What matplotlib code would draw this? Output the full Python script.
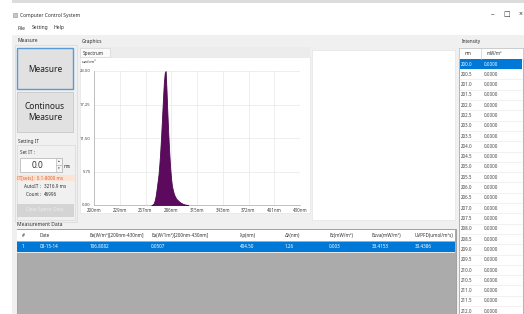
import matplotlib
matplotlib.use("Agg")
import matplotlib.pyplot as plt
from matplotlib.patches import Rectangle

# ---------------- data ----------------
wavelength_nm = [264, 265, 266, 267, 268, 269, 270, 271, 272, 273, 274, 275, 276, 277,
                 278, 279, 280, 281, 282, 283, 284, 285, 286, 287, 288, 289, 290, 291,
                 292, 293, 294, 295, 296, 297, 298, 299, 300, 301, 302, 303, 304, 305]
intensity = [0.0, 0.05, 0.15, 0.4, 0.9, 1.7, 2.8, 4.0, 5.2, 7.0, 9.3, 12.0, 15.0, 18.2,
             21.0, 22.7, 23.0, 19.5, 15.5, 12.0, 9.0, 6.5, 4.6, 3.3, 2.6, 2.0, 1.6, 1.3,
             1.05, 0.9, 0.75, 0.6, 0.48, 0.38, 0.3, 0.22, 0.16, 0.11, 0.07, 0.04, 0.02, 0.0]
x_ticks_nm = [200, 228.75, 257.5, 286.25, 315, 343.75, 372.5, 401.25, 430]
x_tick_labels = ["200nm", "229nm", "257nm", "286nm", "315nm", "343nm", "372nm", "401nm", "430nm"]
y_ticks = [0.0, 5.75, 11.5, 17.25, 23.0]
y_tick_labels = ["0.00", "5.75", "11.50", "17.25", "23.00"]

table_nm = ["200.0", "200.5", "201.0", "201.5", "202.0", "202.5", "203.0", "203.5",
            "204.0", "204.5", "205.0", "205.5", "206.0", "206.5", "207.0", "207.5",
            "208.0", "208.5", "209.0", "209.5", "210.0", "210.5", "211.0", "211.5", "212.0"]
table_val = ["0.0000", "0.0000", "0.0000", "0.0000", "0.0000", "0.0000", "0.0000", "0.0000",
             "0.0000", "0.0000", "0.0000", "0.0000", "0.0000", "0.0000", "0.0000", "0.0000",
             "0.0000", "0.0000", "0.0000", "0.0000", "0.0000", "0.0000", "0.0000", "0.0000", "0.0000"]

meas_headers = ["#", "Date", "Ee(W/m²)[200nm-430nm]", "Ea(W/1m²)[200nm-430nm]", "λp(nm)",
                "Δλ(nm)", "Ez(mW/m²)", "Euva(mW/m²)", "UVPFD(umol/m²s)"]
meas_row = ["1", "08-15-14", "106.8082", "0.0507", "404.50", "1.26", "0.003", "33.4153", "33.4386"]
meas_col_x = [22, 40, 90, 151, 240, 285, 329, 372, 415]

W, H = 524, 314
FONT = "Noto Sans"
plt.rcParams['font.family'] = [FONT, 'DejaVu Sans']

fig = plt.figure(figsize=(W / 100, H / 100), dpi=100)
fig.patch.set_facecolor("white")
bg = fig.add_axes([0, 0, 1, 1])
bg.set_xlim(0, W)
bg.set_ylim(H, 0)
bg.axis("off")


def rect(x0, y0, x1, y1, fc, ec="none", lw=0.6, z=1):
    r = Rectangle((x0, y0), x1 - x0, y1 - y0, facecolor=fc, edgecolor=ec, linewidth=lw, zorder=z)
    bg.add_patch(r)
    return r


def txt(x, y, s, size=3.8, color="#303030", ha="left", z=5, **kw):
    return bg.text(x, y, s, fontsize=size, color=color, ha=ha, va="center", zorder=z, **kw)


# window body
rect(12, 0, W, 3, "#dcdcdc")
rect(12, 3, W, 35, "#ffffff")
rect(12, 35, W, H, "#f0f0f0")

# title bar
rect(13, 13, 17, 17, "#c8c8c8", ec="#909090", lw=0.4)
txt(20, 15, "Computer Control System", size=3.6)
txt(492, 14.5, "–", size=5, ha="center")
txt(507, 14.5, "□", size=5, ha="center")
txt(521, 14.5, "×", size=5, ha="center")

# menu
txt(17, 28, "File", size=3.6)
txt(32, 28, "Setting", size=3.6)
txt(54, 28, "Help", size=3.6)

# left panel
txt(18, 41, "Measure", size=3.6)
rect(15, 45, 77, 222, "none", ec="#d8d8d8", lw=0.5)
rect(17, 48, 73, 89, "#e1e1e1", ec="#5b9bd5", lw=1.0, z=2)
txt(45, 69, "Measure", size=6.0, ha="center", color="#202020")
rect(17, 92, 73, 132, "#e1e1e1", ec="#c8c8c8", lw=0.6, z=2)
txt(45, 112, "Continous\nMeasure", size=6.0, ha="center", color="#202020", linespacing=1.25)
txt(18, 141, "Setting IT", size=3.4)
rect(17, 145, 75, 220, "none", ec="#d8d8d8", lw=0.5)
txt(20, 152, "Set IT :", size=3.4)
rect(20, 158, 62, 172, "#ffffff", ec="#b0b0b0", lw=0.5, z=2)
txt(38, 165, "0.0", size=6.0, ha="center", color="#303030")
rect(56, 158, 62, 165, "#f4f4f4", ec="#b0b0b0", lw=0.4, z=3)
rect(56, 165, 62, 172, "#f4f4f4", ec="#b0b0b0", lw=0.4, z=3)
txt(59, 161.5, "▴", size=2.5, ha="center", z=6)
txt(59, 168.5, "▾", size=2.5, ha="center", z=6)
txt(64, 167, "ms", size=3.6)
rect(16, 175, 75, 181, "#fbe3d6", z=2)
txt(17, 178, "IT[sets] : 0.1-8000 ms", size=3.3, color="#e0622a")
txt(41, 187, "AutoIT :", size=3.3, ha="right")
txt(44, 187, "3216.9 ms", size=3.3)
txt(41, 195, "Count :", size=3.3, ha="right")
txt(44, 195, "46996", size=3.3)
rect(17, 204, 73, 216, "#d4d4d4", ec="#c8c8c8", lw=0.4, z=2)
txt(45, 210, "Clear Spectr Data", size=3.3, ha="center", color="#eeeeee")

# graphics panel
txt(82, 41, "Graphics", size=3.6)
rect(80, 47, 310, 57, "#ececec")
rect(80, 48, 110, 57, "#fafafa", ec="#d0d0d0", lw=0.4, z=2)
txt(83, 53, "Spectrum", size=3.4)
rect(80, 57, 310, 213, "#ffffff", ec="#e0e0e0", lw=0.4)
txt(82, 62, "uw/cm²", size=3.0)
rect(312, 50, 455, 220, "#ffffff", ec="#e0e0e0", lw=0.4)

# intensity table
txt(462, 41, "Intensity", size=3.4)
rect(459, 48, 523, H + 2, "#ffffff", ec="#a8a8a8", lw=0.6)
rect(459, 48, 523, 59, "#ffffff", ec="#c8c8c8", lw=0.5, z=2)
bg.plot([481, 481], [48, 59], color="#d0d0d0", lw=0.5, zorder=3)
txt(465, 53.5, "nm", size=3.2, z=4)
txt(487, 53.5, "mW/m²", size=3.2, z=4)
row_h = 10.3
for i, (nm, v) in enumerate(zip(table_nm, table_val)):
    yc = 64 + i * row_h
    if i == 0:
        rect(460, yc - row_h / 2, 522, yc + row_h / 2, "#0078d7", z=2)
        col = "white"
    else:
        col = "#404040"
    bg.plot([460, 522], [yc + row_h / 2, yc + row_h / 2], color="#e6e6e6", lw=0.4, zorder=2)
    txt(461, yc, nm, size=3.2, color=col, z=4)
    txt(484, yc, v, size=3.2, color=col, z=4)

# measurement data
txt(17, 224, "Measurement Data", size=3.6)
rect(17, 229, 456, H + 2, "#ababab", ec="#9a9a9a", lw=0.6)
rect(17, 230, 455, 241, "#ffffff", z=2)
rect(17, 242, 455, 252, "#0078d7", z=2)
rect(17, 252, 455, 253, "#e8e8e8", z=2)
clip = Rectangle((17, 228), 438, 30, transform=bg.transData, facecolor="none", edgecolor="none")
bg.add_patch(clip)
for x, h, v in zip(meas_col_x, meas_headers, meas_row):
    t1 = txt(x, 235.5, h, size=3.3, color="#303030", z=4)
    t2 = txt(x, 247, v, size=3.3, color="white", z=4)
    t1.set_clip_path(clip)
    t2.set_clip_path(clip)

# spectrum axes
x0, x1, ytop, ybot = 94, 300, 71, 205
ax = fig.add_axes([x0 / W, 1 - ybot / H, (x1 - x0) / W, (ybot - ytop) / H])
ax.set_facecolor("white")
ax.fill_between(wavelength_nm, intensity, 0, color="#5c0a5e", linewidth=0.6, edgecolor="#4a0a4c", zorder=3)
ax.set_xlim(200, 430)
ax.set_ylim(0, 23)
ax.set_xticks(x_ticks_nm)
ax.set_xticklabels(x_tick_labels)
ax.set_yticks(y_ticks)
ax.set_yticklabels(y_tick_labels)
ax.tick_params(axis="both", length=0, labelsize=3.0, colors="#404040", pad=2.5)
ax.tick_params(axis="x", labelsize=3.2, pad=2.5)
ax.grid(True, color="#e8e8e8", linewidth=0.5)
for s in ["top", "right"]:
    ax.spines[s].set_visible(False)
for s in ["left", "bottom"]:
    ax.spines[s].set_color("#b8b8b8")
    ax.spines[s].set_linewidth(0.6)

fig.savefig("out.png", dpi=100)
